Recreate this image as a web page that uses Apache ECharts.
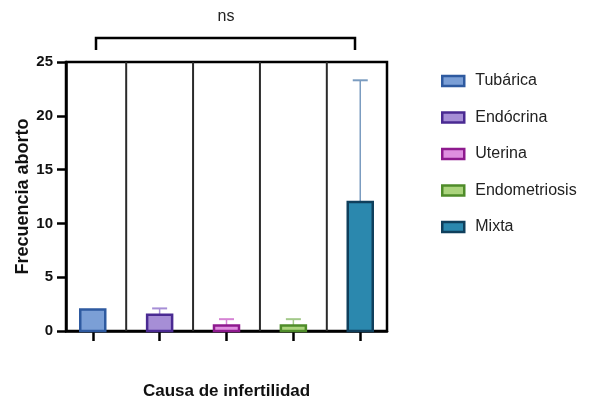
<!DOCTYPE html>
<html>
<head>
<meta charset="utf-8">
<script src="https://cdn.jsdelivr.net/npm/echarts@6/dist/echarts.min.js"></script>
<style>html,body{margin:0;padding:0;background:#fff}#c{width:592px;height:402px}</style>
</head>
<body>
<div id="c"></div>
<script>
const categories = ['Tubárica', 'Endócrina', 'Uterina', 'Endometriosis', 'Mixta'];
const means = [2, 1.5, 0.5, 0.5, 12];
const sds = [0, 0.6, 0.6, 0.6, 11.3];
const yTicks = [0, 5, 10, 15, 20, 25];
const fills = ['#7b9fd6', '#a68ed6', '#df8fe0', '#abd47d', '#2b88ae'];
const borders = ['#2e5aa0', '#4a2a92', '#8e1a8e', '#4f8c2a', '#0f3f5c'];
const errColors = ['#7b9fd6', '#a68ed6', '#d684d4', '#a3c98a', '#7b9cc0'];

const chart = echarts.init(document.getElementById('c'), null, {renderer: 'canvas'});
const FONT = 'Liberation Sans, Arial, sans-serif';

const series = categories.map((name, i) => ({
  name: name,
  type: 'custom',
  itemStyle: {color: fills[i], borderColor: borders[i], borderWidth: 2.5},
  data: [[i + 1, means[i], sds[i]]],
  z: 3,
  renderItem: function (params, api) {
    const x = api.value(0), v = api.value(1), sd = api.value(2);
    const base = api.coord([x, 0]);
    const top = api.coord([x, v]);
    const eTop = api.coord([x, v + sd]);
    const w = 25;
    const children = [];
    if (sd > 0) {
      children.push({type: 'line', shape: {x1: top[0], y1: top[1], x2: eTop[0], y2: eTop[1]}, style: {stroke: errColors[i], lineWidth: 1.5}});
      children.push({type: 'line', shape: {x1: eTop[0] - 7.5, y1: eTop[1], x2: eTop[0] + 7.5, y2: eTop[1]}, style: {stroke: errColors[i], lineWidth: 2}});
    }
    children.push({type: 'rect', shape: {x: base[0] - w / 2, y: top[1], width: w, height: base[1] - top[1]}, style: {fill: fills[i], stroke: borders[i], lineWidth: 2.5}});
    return {type: 'group', children: children};
  }
}));

series.push({
  name: 'dividers',
  type: 'custom',
  silent: true,
  z: 2,
  data: categories.slice(0, -1).map((c, i) => [i + 1.5]),
  renderItem: function (params, api) {
    const x = api.value(0);
    const p0 = api.coord([x, 0]);
    const p1 = api.coord([x, 25]);
    return {type: 'line', shape: {x1: p0[0], y1: p0[1], x2: p1[0], y2: p1[1]}, style: {stroke: '#2a2a2a', lineWidth: 2}};
  }
});

chart.setOption({
  animation: false,
  backgroundColor: '#fff',
  grid: {left: 66, right: 205, top: 62, bottom: 71, containLabel: false, outerBoundsMode: 'none',
    show: true, borderColor: '#000', borderWidth: 2.5, backgroundColor: 'transparent'},
  xAxis: {
    type: 'value', min: 0.6, max: 5.4,
    axisLine: {show: true, lineStyle: {color: '#000', width: 2.5}},
    axisTick: {show: true, customValues: [1, 2, 3, 4, 5], length: 10, lineStyle: {color: '#000', width: 2.5}},
    axisLabel: {show: false},
    splitLine: {show: false},
    name: 'Causa de infertilidad', nameLocation: 'middle', nameGap: 52, nameMoveOverlap: false,
    nameTextStyle: {fontFamily: FONT, fontSize: 17, fontWeight: 'bold', color: '#111'}
  },
  yAxis: {
    type: 'value', min: 0, max: 25, interval: 5,
    axisLine: {show: true, lineStyle: {color: '#000', width: 2.5}},
    axisTick: {show: true, length: 9, lineStyle: {color: '#000', width: 2.5}},
    axisLabel: {fontFamily: FONT, fontSize: 15, fontWeight: 'bold', color: '#111', margin: 13,
      formatter: v => yTicks.includes(v) ? String(v) : ''},
    splitLine: {show: false},
    name: 'Frecuencia aborto', nameLocation: 'middle', nameGap: 34, nameRotate: 90, nameMoveOverlap: false,
    nameTextStyle: {fontFamily: FONT, fontSize: 18, fontWeight: 'bold', color: '#111'}
  },
  legend: {
    orient: 'vertical', left: 436, top: 68, itemWidth: 22, itemHeight: 10, itemGap: 20.5,
    icon: 'rect',
    textStyle: {fontFamily: FONT, fontSize: 16, color: '#222', lineHeight: 16, padding: [0, 0, 0, 6]},
    data: categories.map((c, i) => ({name: c, itemStyle: {color: fills[i], borderColor: borders[i], borderWidth: 2.5}}))
  },
  graphic: [
    {type: 'polyline', shape: {points: [[96, 50], [96, 38], [355, 38], [355, 50]]}, style: {stroke: '#000', lineWidth: 2.5, fill: null}},
    {type: 'text', x: 226, y: 17, style: {text: 'ns', font: '16px ' + FONT, fill: '#222', textAlign: 'center', textVerticalAlign: 'middle'}}
  ],
  series: series
});
</script>
</body>
</html>
